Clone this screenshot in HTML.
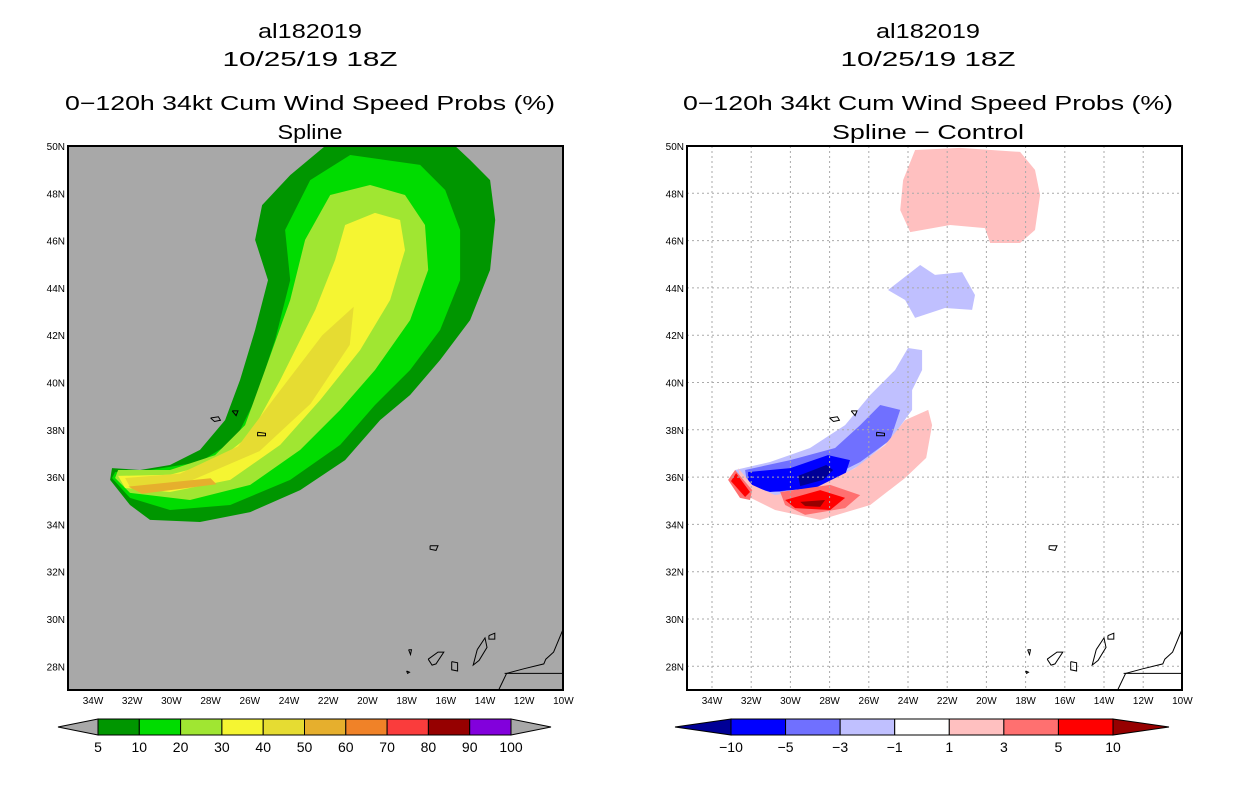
<!DOCTYPE html>
<html><head><meta charset="utf-8"><style>
html,body{margin:0;padding:0;background:#fff;}
svg{display:block;font-family:"Liberation Sans",sans-serif;}
</style></head><body>
<svg id="s" width="1236" height="800" xmlns="http://www.w3.org/2000/svg">
<g font-size="20" text-anchor="middle" fill="#000" lengthAdjust="spacingAndGlyphs">
<text x="310" y="38" textLength="104" lengthAdjust="spacingAndGlyphs">al182019</text><text x="310" y="66" textLength="175" lengthAdjust="spacingAndGlyphs">10/25/19 18Z</text>
<text x="310" y="110" textLength="490" lengthAdjust="spacingAndGlyphs">0−120h 34kt Cum Wind Speed Probs (%)</text><text x="310" y="139" textLength="65" lengthAdjust="spacingAndGlyphs">Spline</text></g>
<g font-size="20" text-anchor="middle" fill="#000">
<text x="928" y="38" textLength="104" lengthAdjust="spacingAndGlyphs">al182019</text><text x="928" y="66" textLength="175" lengthAdjust="spacingAndGlyphs">10/25/19 18Z</text>
<text x="928" y="110" textLength="490" lengthAdjust="spacingAndGlyphs">0−120h 34kt Cum Wind Speed Probs (%)</text><text x="928" y="139" textLength="192" lengthAdjust="spacingAndGlyphs">Spline − Control</text></g>
<g id="L"></g>
<g id="R"></g>
<g id="CB"></g>
</svg>
<script>
const NS="http://www.w3.org/2000/svg";
const lonTicks=[34,32,30,28,26,24,22,20,18,16,14,12,10];
const latTicks=[28,30,32,34,36,38,40,42,44,46,48,50];
const leftLevels=["5","10","20","30","40","50","60","70","80","90","100"];
const leftColors=["#009600","#00dc00","#a0e632","#f5f532","#e6dc32","#e6af2d","#f08228","#fa3c3c","#960000","#8200dc"];
const rightLevels=["−10","−5","−3","−1","1","3","5","10"];
const rightColors=["#0000ff","#7070ff","#c0c0ff","#ffffff","#ffc0c0","#ff7070","#ff0000"];
// contour polygons [lonW, latN]
const p5=[[22.16,50],[23.94,48.77],[25.37,47.5],[25.73,46.03],[25.07,44.33],[25.73,42.22],[26.5,40.1],[27.26,38.41],[28.54,37.15],[30.07,36.51],[31.6,36.3],[33.03,36.38],[33.13,35.88],[32.11,34.82],[31.09,34.19],[28.54,34.1],[25.98,34.52],[23.43,35.45],[21.14,36.72],[19.35,38.41],[17.82,39.47],[16.29,40.95],[14.76,42.64],[13.74,44.76],[13.48,46.87],[13.74,48.56],[14.76,49.41],[15.52,50]];
const p10=[[20.88,49.62],[17.31,49.2],[16.03,48.14],[15.27,46.45],[15.27,44.33],[16.29,42.22],[17.82,40.53],[19.61,39.05],[21.39,37.36],[23.94,35.88],[27.0,34.82],[30.07,34.61],[32.11,35.12],[33.03,35.96],[32.87,36.21],[31.09,36.3],[28.54,36.64],[26.75,37.57],[25.73,39.26],[24.71,41.8],[23.94,44.33],[24.2,46.45],[22.92,48.56]];
const p20=[[21.9,47.93],[19.86,48.35],[18.08,47.93],[17.06,46.66],[16.9,44.76],[17.82,42.64],[19.61,40.53],[21.39,38.84],[23.43,37.15],[25.98,35.67],[29.05,35.03],[32.11,35.33],[32.87,35.96],[32.72,36.3],[30.07,36.3],[27.77,36.93],[26.24,38.2],[25.22,40.53],[23.94,43.49],[23.18,46.03]];
const p30=[[21.14,46.66],[19.61,47.17],[18.33,46.87],[18.08,45.6],[18.84,43.49],[20.37,41.37],[22.41,39.26],[24.45,37.36],[27.0,35.88],[30.07,35.37],[32.36,35.54],[32.72,36.05],[30.07,36.1],[27.77,36.6],[25.98,37.78],[24.45,40.1],[22.66,43.07],[21.65,45.18]];
const p40=[[20.7,43.2],[20.9,41.6],[22.9,39.1],[25.5,37.1],[29.0,35.85],[32.11,35.58],[32.36,35.96],[29.56,36.15],[26.6,37.3],[24.7,39.4],[22.3,42.0]];
const p50=[[32.2,35.6],[28.0,35.95],[27.7,35.7],[31.5,35.3]];
const rTop=[[23.64,49.83],[21.34,49.92],[18.28,49.75],[17.52,48.99],[17.26,47.93],[17.52,46.45],[18.28,45.9],[19.81,45.9],[20.07,46.53],[21.85,46.66],[23.89,46.36],[24.4,47.29],[24.25,48.56]];
const rB44=[[23.38,44.97],[22.62,44.55],[21.24,44.67],[20.58,43.7],[20.73,43.07],[22.11,43.15],[23.64,42.73],[24.15,43.49],[25.02,43.91]];
const rB1=[[32.82,36.3],[31.04,36.64],[29.0,37.23],[27.21,38.2],[25.93,39.47],[24.66,40.53],[24.0,41.46],[23.28,41.37],[23.28,40.53],[23.79,39.68],[23.79,38.84],[24.91,37.57],[26.44,36.51],[28.23,35.67],[30.27,35.16],[32.06,35.16],[32.82,35.45]];
const rB3=[[32.31,36.3],[30.01,36.72],[27.72,37.23],[26.44,38.2],[25.42,39.05],[24.4,38.84],[24.91,37.57],[26.44,36.64],[28.48,35.79],[30.52,35.37],[32.16,35.45]];
const rB5=[[32.16,36.21],[30.01,36.38],[28.08,36.93],[26.96,36.72],[27.21,36.09],[28.74,35.54],[31.04,35.37],[32.16,35.67]];
const rB10=[[29.6,36.05],[28.17,36.51],[27.82,36.3],[28.33,35.88],[29.5,35.62]];
const rP1=[[32.67,36.38],[32.31,35.24],[30.78,34.61],[28.48,34.19],[25.93,34.82],[24.15,35.96],[23.07,36.81],[22.77,38.2],[22.97,38.84],[24.15,38.41],[25.17,37.36],[26.7,36.38],[28.74,35.54],[30.78,35.24],[31.95,35.67]];
const rP3a=[[32.82,36.3],[31.95,35.45],[32.06,35.03],[32.57,35.12],[33.18,35.88]];
const rP3b=[[30.52,35.37],[27.97,35.67],[26.44,35.24],[27.21,34.69],[29.25,34.4],[30.27,34.82]];
const rP5a=[[32.77,36.17],[32.06,35.37],[32.31,35.16],[33.03,35.83]];
const rP5b=[[30.27,35.03],[28.48,35.45],[27.21,35.12],[27.97,34.61],[29.76,34.69]];
const rP10=[[29.5,34.95],[28.23,35.03],[28.48,34.74],[29.25,34.78]];
const islands=[
 [[28.0,38.5],[27.6,38.55],[27.5,38.4],[27.8,38.35]],
 [[26.9,38.8],[26.6,38.8],[26.7,38.6]],
 [[25.6,37.9],[25.2,37.85],[25.2,37.75],[25.6,37.75]],
 [[16.8,33.1],[16.4,33.1],[16.5,32.9],[16.8,32.95]],
 [[17.9,28.7],[17.75,28.7],[17.8,28.5]],
 [[18.0,27.8],[17.85,27.75],[17.95,27.7]],
 [[16.9,28.3],[16.4,28.6],[16.1,28.6],[16.5,28.1],[16.7,28.05]],
 [[15.7,28.2],[15.4,28.15],[15.4,27.8],[15.7,27.85]],
 [[14.4,28.7],[14.0,29.2],[13.9,28.8],[14.3,28.25],[14.6,28.05]],
 [[13.8,29.3],[13.5,29.4],[13.5,29.15],[13.8,29.15]]];
const coast=[[13.3,27.0],[12.9,27.7],[12.0,27.9],[11.0,28.1],[10.9,28.3],[10.5,28.6],[10.0,29.6]];
const border=[[13.0,27.7],[10.0,27.7]];

function pt(x0,c){return (x0+25+(34-c[0])*19.6).toFixed(1)+","+(146+(50-c[1])*23.65).toFixed(1);}
function poly(g,x0,arr,fill,stroke,name){
 const p=document.createElementNS(NS,stroke?"polyline":"polygon");
 p.setAttribute("points",arr.map(c=>pt(x0,c)).join(" "));
 p.setAttribute("fill",fill);
 if(stroke){p.setAttribute("stroke",stroke);p.setAttribute("stroke-width","1");}
 
 
 g.appendChild(p);}
function el(g,tag,attrs,txt){const e=document.createElementNS(NS,tag);for(const k in attrs)e.setAttribute(k,attrs[k]);if(txt!==undefined)e.textContent=txt;g.appendChild(e);return e;}
function axes(g,x0,grid){
 lonTicks.forEach(l=>{const x=x0+25+(34-l)*19.6;
  if(grid&&l!=10){const ln=el(g,"line",{x1:x,x2:x,y1:146,y2:690,stroke:"#aaa","stroke-dasharray":"2,3"});}
  const t=el(g,"text",{x:x,y:704,"font-size":"10","text-anchor":"middle"},l+"W");
  
  });
 latTicks.forEach(l=>{const y=146+(50-l)*23.65;
  if(grid&&l!=50){const ln=el(g,"line",{x1:x0,x2:x0+495,y1:y,y2:y,stroke:"#aaa","stroke-dasharray":"2,3"});}
  const t=el(g,"text",{x:x0-3,y:y+4,"font-size":"10","text-anchor":"end"},l+"N");
  
  });
}
function land(g,x0){
 islands.forEach(a=>poly(g,x0,a.concat([a[0]]),"none","#000","island-outline"));
 poly(g,x0,coast,"none","#000","africa-coast");
 poly(g,x0,border,"none","#000","border-line");
 const r=el(g,"rect",{x:x0,y:146,width:495,height:544,fill:"none",stroke:"#000","stroke-width":"2"});
 
}
const L=document.getElementById("L"),R=document.getElementById("R");
// left
el(L,"rect",{x:68,y:146,width:495,height:544,fill:"#a8a8a8"});
const cl=el(L,"clipPath",{id:"cl"});el(cl,"rect",{x:68,y:146,width:495,height:544});
const lc=el(L,"g",{"clip-path":"url(#cl)"});
[[p5,0,"contour-5"],[p10,1,"contour-10"],[p20,2,"contour-20"],[p30,3,"contour-30"],[p40,4,"contour-40"],[p50,5,"contour-50"]].forEach(([a,i,n])=>poly(lc,68,a,leftColors[i],null,n));
axes(L,68,false);land(L,68);
// right
el(R,"rect",{x:687,y:146,width:495,height:544,fill:"#fff"});
const cr=el(R,"clipPath",{id:"cr"});el(cr,"rect",{x:687,y:146,width:495,height:544});
const rc=el(R,"g",{"clip-path":"url(#cr)"});
[[rTop,4,"diff-pos-1-north"],[rB44,2,"diff-neg-1-44n"],[rB1,2,"diff-neg-1"],[rB3,1,"diff-neg-3"],[rB5,0,"diff-neg-5"],[rP1,4,"diff-pos-1"],[rP3a,5,"diff-pos-3a"],[rP3b,5,"diff-pos-3b"],[rP5a,6,"diff-pos-5a"],[rP5b,6,"diff-pos-5b"]].forEach(([a,i,n])=>poly(rc,687,a,rightColors[i],null,n));
poly(rc,687,rB10,"#000096",null,"diff-neg-10");
poly(rc,687,rP10,"#960000",null,"diff-pos-10");
axes(R,687,true);land(R,687);
// colorbars
const CB=document.getElementById("CB");
function cbar(x0,x1,nb,cols,labels,tri1,tri2,tw,name){
 const w=(x1-x0)/nb,y=719,h=16;
 el(CB,"polygon",{points:`${x0},${y} ${x0-tw},${y+h/2} ${x0},${y+h}`,fill:tri1,stroke:"#000","stroke-width":"1"});
 el(CB,"polygon",{points:`${x1},${y} ${x1+tw},${y+h/2} ${x1},${y+h}`,fill:tri2,stroke:"#000","stroke-width":"1"});
 cols.forEach((c,i)=>{const r=el(CB,"rect",{x:x0+i*w,y:y,width:w,height:h,fill:c,stroke:"#000","stroke-width":"1"});
  });
 labels.forEach((t,i)=>{const tx=el(CB,"text",{x:x0+i*w,y:752,"font-size":"14","text-anchor":"middle"},t);
  });
}
cbar(98,511,10,leftColors,leftLevels,"#a8a8a8","#a8a8a8",40,"left-colorbar");
cbar(731,1113,7,rightColors,rightLevels,"#000096","#960000",56,"right-colorbar");
</script>
</body></html>
